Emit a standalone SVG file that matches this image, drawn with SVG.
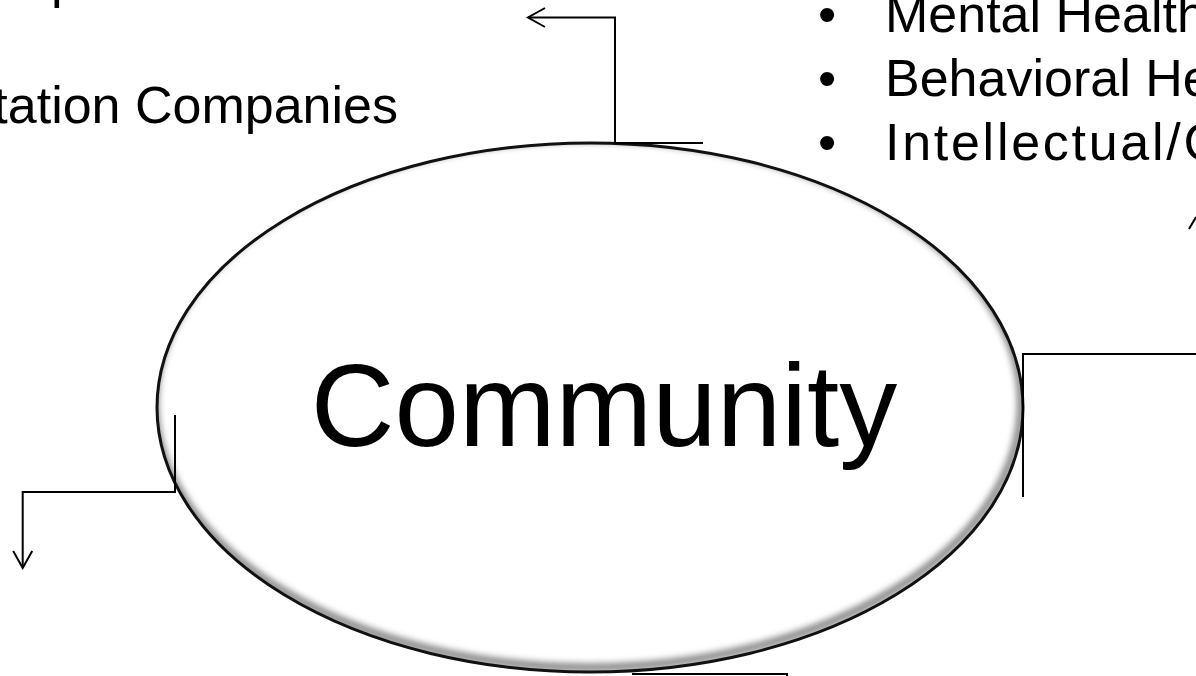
<svg xmlns="http://www.w3.org/2000/svg" width="1196" height="676" viewBox="0 0 1196 676">
<style>
.t{font-family:"Liberation Sans",Arial,sans-serif;font-size:52px;fill:#000}
.c{fill:none;stroke:#000;stroke-width:2}
</style>
<defs>
<marker id="arr" markerUnits="userSpaceOnUse" markerWidth="40" markerHeight="40" refX="0" refY="0" viewBox="-20 -20 40 40" orient="auto" overflow="visible">
<path d="M-17,-9.5 L0,0 L-17,9.5" fill="none" stroke="#000" stroke-width="2"/>
</marker>
<clipPath id="inside"><ellipse cx="590" cy="407.5" rx="433" ry="264.5"/></clipPath>
<filter id="blur" x="-10%" y="-10%" width="120%" height="120%"><feGaussianBlur stdDeviation="3"/></filter>
</defs>
<rect width="1196" height="676" fill="#fff"/>
<g id="community">
<ellipse cx="590" cy="407.5" rx="433" ry="264.5" fill="#fff"/>
<g clip-path="url(#inside)">
<ellipse cx="588" cy="403" rx="433" ry="264.5" fill="none" stroke="#888" stroke-width="8" filter="url(#blur)"/>
</g>
<ellipse cx="590" cy="407.5" rx="433" ry="264.5" fill="none" stroke="#111" stroke-width="3"/>
<text x="604" y="446" text-anchor="middle" font-family="Liberation Sans,Arial,sans-serif" font-size="116">Community</text>
</g>
<g id="left-list">
<text class="t" x="51" y="-3">p</text>
<text class="t" x="398" y="123" text-anchor="end">tation Companies</text>
</g>
<g id="right-list">
<text class="t" x="818" y="32">•</text>
<text class="t" x="885" y="32">Mental Health</text>
<text class="t" x="818" y="96">•</text>
<text class="t" x="885" y="96">Behavioral He</text>
<text class="t" x="818" y="160">•</text>
<text class="t" x="885" y="160" textLength="336" lengthAdjust="spacing">Intellectual/C</text>
</g>
<g id="connectors">
<path class="c" d="M703,143 H615 V17.5 H528" marker-end="url(#arr)"/>
<path class="c" d="M175,415 V492 H22.7 V568" marker-end="url(#arr)"/>
<path class="c" d="M1196,354 H1023 V497"/>
<path class="c" d="M632,674 H787 V676"/>
<path class="c" d="M1189,229 L1196,217"/>
</g>
</svg>
